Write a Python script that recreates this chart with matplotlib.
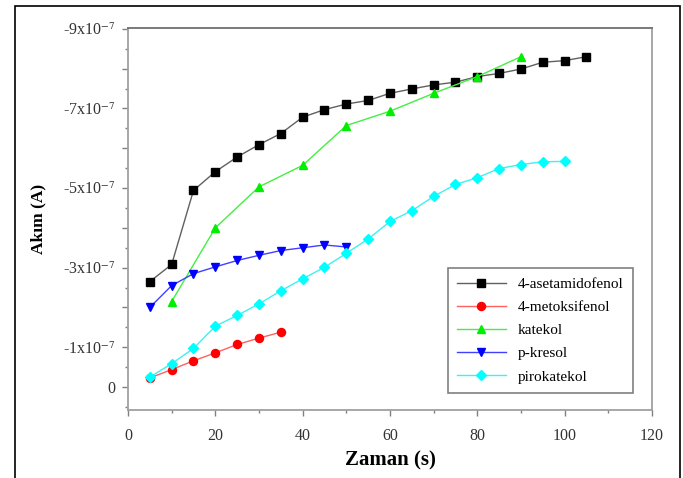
import numpy as np
import matplotlib
matplotlib.use('Agg')
import matplotlib.pyplot as plt
from matplotlib.patches import Rectangle

plt.rcParams['font.family'] = ['Liberation Serif', 'DejaVu Serif']
plt.rcParams['mathtext.fontset'] = 'stix'

# veriler (akim, 1e-7 A birimi, negatif)
t_aset = [5, 10, 15, 20, 25, 30, 35, 40, 45, 50, 55, 60, 65, 70, 75, 80, 85, 90, 95, 100, 105]
i_aset = [2.65, 3.08, 4.94, 5.41, 5.78, 6.09, 6.37, 6.78, 6.97, 7.11, 7.2, 7.38, 7.49, 7.59, 7.66, 7.8, 7.88, 7.99, 8.16, 8.2, 8.3]

t_metok = [5, 10, 15, 20, 25, 30, 35]
i_metok = [0.23, 0.44, 0.66, 0.86, 1.07, 1.23, 1.38]

t_kat = [10, 20, 30, 40, 50, 60, 70, 80, 90]
i_kat = [2.15, 4.0, 5.03, 5.57, 6.57, 6.93, 7.38, 7.8, 8.3]

t_kres = [5, 10, 15, 20, 25, 30, 35, 40, 45, 50]
i_kres = [2.0, 2.55, 2.85, 3.02, 3.18, 3.31, 3.43, 3.5, 3.57, 3.52]

t_piro = [5, 10, 15, 20, 25, 30, 35, 40, 45, 50, 55, 60, 65, 70, 75, 80, 85, 90, 95, 100]
i_piro = [0.25, 0.59, 0.97, 1.53, 1.8, 2.09, 2.42, 2.72, 3.01, 3.36, 3.72, 4.16, 4.43, 4.79, 5.09, 5.26, 5.49, 5.59, 5.66, 5.67]

ytick_vals = [0, -1, -2, -3, -4, -5, -6, -7, -8, -9]
ytick_labels = ['0', r'-1x10$^{-7}$', '', r'-3x10$^{-7}$', '', r'-5x10$^{-7}$', '',
                r'-7x10$^{-7}$', '', r'-9x10$^{-7}$']

fig = plt.figure(figsize=(6.83, 4.78), dpi=100)
ax = fig.add_axes([0.1874, 0.1423, 0.7672, 0.7991])

series = [
    (t_aset, i_aset, '4-asetamidofenol', 's', 'black', '#606060'),
    (t_metok, i_metok, '4-metoksifenol', 'o', 'red', '#ff6060'),
    (t_kat, i_kat, 'katekol', '^', '#00ee00', '#44ee44'),
    (t_kres, i_kres, 'p-kresol', 'v', 'blue', '#4040ff'),
    (t_piro, i_piro, 'pirokatekol', 'D', 'cyan', '#40f0f0'),
]
for t, v, lab, m, mc, lc in series:
    ax.plot(t, -np.array(v) * 1e-7, color=lc, lw=1.0, marker=m, ms=5.8 if m != 'D' else 5.0,
            mfc=mc, mec=mc, label=lab)

ax.set_xlim(0, 120)
ax.set_ylim(0.575e-7, -9.02e-7)
ax.set_xticks(range(0, 121, 20))
ax.set_xticks(range(0, 121, 10), minor=True)
ax.set_yticks(np.array(ytick_vals) * 1e-7)
ax.set_yticklabels(ytick_labels)
ax.set_yticks(np.arange(0.5, -9, -1) * 1e-7, minor=True)

for s in ax.spines.values():
    s.set_color('#a0a0a0')
    s.set_linewidth(1.3)
ax.spines['top'].set_color('#707070')
ax.tick_params(axis='both', which='major', direction='out', length=4, width=1,
               color='#808080', labelsize=11.5, labelcolor='#333333')
ax.tick_params(axis='both', which='minor', direction='out', length=2, width=1, color='#808080')
ax.tick_params(axis='x', pad=9)
ax.tick_params(axis='y', pad=5)

ax.set_xlabel('Zaman (s)', fontsize=15, fontweight='bold', labelpad=5)
ax.set_ylabel('Akım (A)', fontsize=12.5, fontweight='bold', labelpad=12)

leg = ax.legend(loc='lower right', bbox_to_anchor=(0.978, 0.025), fontsize=11,
                fancybox=False, edgecolor='#808080', framealpha=1, handlelength=3.2,
                labelspacing=0.62, borderpad=0.6, handletextpad=0.8)
leg.get_frame().set_linewidth(1.2)

fig.patches.append(Rectangle((15 / 683, -0.05), (680 - 15) / 683, 1.05 - 6 / 478,
                             transform=fig.transFigure, fill=False, edgecolor='black',
                             lw=1.2, clip_on=False))

fig.savefig('out.png', dpi=100)
